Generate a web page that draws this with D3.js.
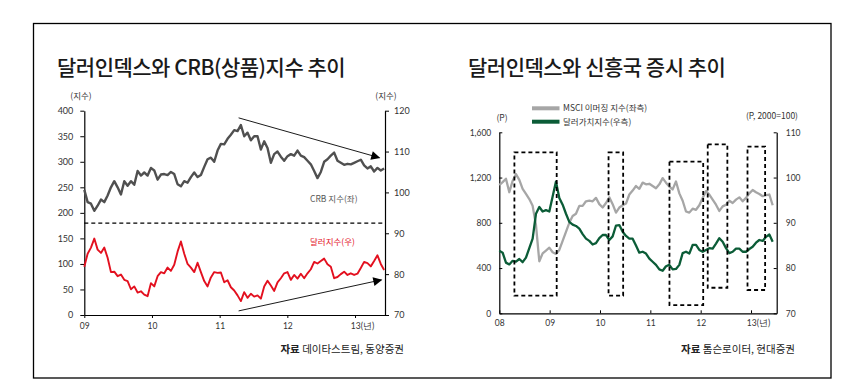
<!DOCTYPE html>
<html>
<head>
<meta charset="utf-8">
<script src="https://d3js.org/d3.v7.min.js"></script>
<style>
    body { margin: 0; background: #fff; }
    text { font-family: "Noto Sans CJK KR", "Noto Sans", sans-serif; }
</style>
</head>
<body>
<div class="chart"></div>
<script>

// Left panel: CRB commodity index (left axis) and dollar index (right axis)
var crbStart = 2009.0, crbEnd = 2013.43;
var crbValues = [245,221,218,204,214,226,221,234,250,262,
    250,236,262,253,262,255,282,273,279,273,
    288,283,265,275,276,274,280,276,256,252,
    262,259,270,279,270,274,290,305,308,300,
    322,335,334,345,353,362,360,372,350,357,
    342,350,350,324,340,327,298,315,320,310,
    302,311,315,312,322,312,309,302,295,282,
    268,280,300,305,312,318,302,298,294,296,
    295,298,301,304,293,287,291,281,288,283,287];
var dollarValues = [81.8,85.0,86.5,88.7,86.0,85.2,86.5,84.0,80.5,80.6,
    79.5,79.9,78.6,78.3,76.3,77.0,75.5,75.8,75.0,74.6,
    77.8,77.0,79.5,80.5,80.2,81.6,80.8,82.3,85.5,88.0,
    85.0,82.5,81.6,80.5,82.8,80.5,78.3,77.0,79.2,80.5,
    80.3,80.4,78.0,78.5,76.8,76.0,74.8,73.4,75.6,74.2,
    75.2,74.5,74.8,74.0,77.0,78.4,77.2,75.9,78.0,79.0,
    80.2,80.5,78.6,79.8,78.9,80.1,79.0,80.2,81.2,83.0,
    82.6,83.2,83.8,82.4,81.8,79.0,79.3,80.0,80.6,79.8,
    80.2,79.8,80.1,81.5,83.0,82.7,81.9,83.2,84.6,82.5,81.0];
var leftYears = [2009, 2010, 2011, 2012, 2013];
var crbTicks = [0, 50, 100, 150, 200, 250, 300, 350, 400];
var dollarTicks = [70, 80, 90, 100, 110, 120];
var splitValue = 180;
// trend arrows: [year, value] pairs (top on the CRB axis, bottom on the dollar axis)
var crbTrend = [[2011.28, 386], [2013.36, 308]];
var dollarTrend = [[2011.28, 71.0], [2013.39, 78.6]];

// Right panel: MSCI EM index (left axis) and dollar value index (right axis)
var emStart = 2008.0, emEnd = 2013.43;
var msciValues = [1134,1160,1190,1070,1170,1230,1180,1100,1055,1010,
    950,780,460,530,555,580,540,525,560,640,
    720,800,860,880,950,950,990,995,990,1020,
    965,935,975,1025,965,890,935,955,970,1050,
    1085,1125,1100,1155,1140,1145,1125,1105,1140,1195,
    1155,1120,1095,1165,1060,995,900,890,925,915,
    955,1020,1080,1050,1005,960,905,945,960,995,
    975,1005,1025,990,1020,1060,1090,1070,1055,1035,
    1045,1050,955];
var dxyValues = [83.8,83.4,81.2,80.8,81.6,81.4,82.0,81.3,82.3,84.4,
    86.5,92.0,93.5,92.5,92.8,92.5,95.8,99.1,95.5,94.0,
    92.0,90.2,89.6,89.3,88.7,87.5,86.5,86.0,85.2,85.5,
    86.6,87.3,87.3,86.2,87.0,89.4,89.5,88.0,87.1,86.5,
    86.5,85.0,83.4,83.6,83.2,82.1,81.4,80.7,79.7,79.4,
    80.4,80.7,79.7,79.8,80.7,83.3,83.6,83.2,85.1,85.1,
    84.0,83.6,84.0,84.4,84.3,85.4,86.6,85.8,84.4,83.3,
    83.6,84.3,84.3,83.6,83.6,84.2,84.7,85.6,86.2,86.0,
    86.9,87.4,85.8];
var rightYears = [2008, 2009, 2010, 2011, 2012, 2013];
var msciTicks = [0, 400, 800, 1200, 1600];
var dxyTicks = [70, 80, 90, 100, 110];
// highlighted periods: start year, end year, top and bottom on the MSCI axis
var boxStart = [2008.30, 2010.17, 2011.38, 2012.14, 2012.93];
var boxEnd = [2009.14, 2010.46, 2012.05, 2012.53, 2013.28];
var boxTop = [1423, 1423, 1340, 1494, 1473];
var boxBottom = [156, 156, 73, 226, 206];

var width = 857, height = 390;

var svg = d3.select(".chart")
    .append("svg")
        .attr("width", width)
        .attr("height", height);

svg.append("rect")
    .attr("width", width)
    .attr("height", height)
    .style("fill", "#fff");

// frame round both panels
svg.append("rect")
    .attr("x", 33.5)
    .attr("y", 23.5)
    .attr("width", 797.5)
    .attr("height", 354.5)
    .style("fill", "none")
    .style("stroke", "#000")
    .style("stroke-width", 1.3);

// turns a value array into [year, value] points spread evenly over a period
function toPoints(values, start, end) {
    var step = (end - start) / (values.length - 1);
    return values.map(function(v, i) { return [start + i * step, v]; });
}

function yearLabel(d) {
    var s = String(d).slice(2);
    return d == 2013 ? s + "(년)" : s;
}

function styleAxis(g, size) {
    g.select(".domain").style("stroke", "#000").style("stroke-width", 1.2);
    g.selectAll(".tick line").style("stroke", "#000").style("stroke-width", 1);
    g.selectAll(".tick text")
        .style("font-family", "Lato, 'Noto Sans', sans-serif")
        .style("font-size", size + "px")
        .style("fill", "#333");
}

// arrow head for the trend lines
svg.append("defs")
    .append("marker")
        .attr("id", "head")
        .attr("viewBox", "0 0 10 10")
        .attr("refX", 9)
        .attr("refY", 5)
        .attr("markerWidth", 12)
        .attr("markerHeight", 9)
        .attr("markerUnits", "userSpaceOnUse")
        .attr("orient", "auto")
    .append("path")
        .attr("d", "M0,0 L10,5 L0,10 z")
        .style("fill", "#000");

function makeLeft() {

    var x = d3.scaleLinear().domain([2009, 2013.443]).range([84.3, 385]);
    var yL = d3.scaleLinear().domain([0, 400]).range([315, 110.7]);
    var yR = d3.scaleLinear().domain([70, 120]).range([315, 110.7]);

    svg.append("text")
        .attr("x", 57)
        .attr("y", 75)
        .style("font-size", "21px")
        .style("font-weight", 500)
        .style("letter-spacing", "-0.5px")
        .style("fill", "#1a1a1a")
        .text("달러인덱스와 CRB(상품)지수 추이");

    // axes
    var gl = svg.append("g")
        .attr("transform", "translate(84.3,0)")
        .call(d3.axisLeft(yL).tickValues(crbTicks).tickSize(4).tickPadding(7).tickSizeOuter(0));
    styleAxis(gl, 9);

    var gr = svg.append("g")
        .attr("transform", "translate(385,0)")
        .call(d3.axisRight(yR).tickValues(dollarTicks).tickSize(4).tickPadding(5).tickSizeOuter(0));
    styleAxis(gr, 9);

    var gb = svg.append("g")
        .attr("transform", "translate(0,315)")
        .call(d3.axisBottom(x).tickValues(leftYears).tickFormat(yearLabel).tickSize(3).tickPadding(5).tickSizeOuter(0));
    styleAxis(gb, 8.5);
    gb.selectAll(".tick text").filter(function(d) { return d == 2013; }).attr("dx", 7);

    svg.append("text").attr("x", 81).attr("y", 99).attr("text-anchor", "middle")
        .style("font-size", "8.5px").style("fill", "#333").text("(지수)");
    svg.append("text").attr("x", 386).attr("y", 99).attr("text-anchor", "middle")
        .style("font-size", "8.5px").style("fill", "#333").text("(지수)");

    // dashed divider between the two series
    svg.append("line")
        .attr("x1", x(2009))
        .attr("x2", x(2013.443))
        .attr("y1", yL(splitValue))
        .attr("y2", yL(splitValue))
        .style("stroke", "#000")
        .style("stroke-width", 1.3)
        .style("stroke-dasharray", "4,3");

    var crbLine = d3.line()
        .x(function(d) { return x(d[0]); })
        .y(function(d) { return yL(d[1]); });

    var dollarLine = d3.line()
        .x(function(d) { return x(d[0]); })
        .y(function(d) { return yR(d[1]); });

    svg.append("path")
        .datum(toPoints(crbValues, crbStart, crbEnd))
        .attr("d", crbLine)
        .style("fill", "none")
        .style("stroke", "#505050")
        .style("stroke-width", 2.4)
        .style("stroke-linejoin", "round");

    svg.append("path")
        .datum(toPoints(dollarValues, crbStart, crbEnd))
        .attr("d", dollarLine)
        .style("fill", "none")
        .style("stroke", "#e3101f")
        .style("stroke-width", 1.9)
        .style("stroke-linejoin", "round");

    // trend arrows
    svg.append("path")
        .datum(crbTrend)
        .attr("d", crbLine)
        .style("stroke", "#000")
        .style("stroke-width", 0.9)
        .attr("marker-end", "url(#head)");

    svg.append("path")
        .datum(dollarTrend)
        .attr("d", dollarLine)
        .style("stroke", "#000")
        .style("stroke-width", 0.9)
        .attr("marker-end", "url(#head)");

    svg.append("text").attr("x", 310).attr("y", 202)
        .style("font-size", "8.5px").style("fill", "#555").text("CRB 지수(좌)");
    svg.append("text").attr("x", 310).attr("y", 245)
        .style("font-size", "8.5px").style("fill", "#e3101f").text("달러지수(우)");

    var src = svg.append("text")
        .attr("x", 404)
        .attr("y", 353)
        .attr("text-anchor", "end")
        .style("font-size", "10.5px")
        .style("fill", "#222");
    src.append("tspan").style("font-weight", 700).text("자료 ");
    src.append("tspan").text("데이타스트림, 동양증권");
}

function makeRight() {

    var x = d3.scaleLinear().domain([2008, 2013.51]).range([499.3, 776.7]);
    var yL = d3.scaleLinear().domain([0, 1600]).range([313.3, 132.3]);
    var yR = d3.scaleLinear().domain([70, 110]).range([313.3, 132.3]);

    svg.append("text")
        .attr("x", 468)
        .attr("y", 75)
        .style("font-size", "21px")
        .style("font-weight", 500)
        .style("letter-spacing", "-0.5px")
        .style("fill", "#1a1a1a")
        .text("달러인덱스와 신흥국 증시 추이");

    var gl = svg.append("g")
        .attr("transform", "translate(499.3,0)")
        .call(d3.axisLeft(yL).tickValues(msciTicks).tickFormat(d3.format(",")).tickSize(-3).tickPadding(8).tickSizeOuter(0));
    styleAxis(gl, 8.5);

    var gr = svg.append("g")
        .attr("transform", "translate(776.7,0)")
        .call(d3.axisRight(yR).tickValues(dxyTicks).tickSize(-3).tickPadding(9).tickSizeOuter(0));
    styleAxis(gr, 8.5);

    var gb = svg.append("g")
        .attr("transform", "translate(0,313.3)")
        .call(d3.axisBottom(x).tickValues(rightYears).tickFormat(yearLabel).tickSize(-3).tickPadding(7).tickSizeOuter(0));
    styleAxis(gb, 8.5);
    gb.selectAll(".tick text").filter(function(d) { return d == 2013; }).attr("dx", 7);

    svg.append("text").attr("x", 502).attr("y", 121).attr("text-anchor", "middle")
        .style("font-size", "8.5px").style("fill", "#333").text("(P)");
    svg.append("text").attr("x", 798).attr("y", 119).attr("text-anchor", "end")
        .style("font-size", "8.5px").style("fill", "#333").text("(P, 2000=100)");

    var msciLine = d3.line()
        .x(function(d) { return x(d[0]); })
        .y(function(d) { return yL(d[1]); });

    var dxyLine = d3.line()
        .x(function(d) { return x(d[0]); })
        .y(function(d) { return yR(d[1]); });

    svg.append("path")
        .datum(toPoints(msciValues, emStart, emEnd))
        .attr("d", msciLine)
        .style("fill", "none")
        .style("stroke", "#a6a6a6")
        .style("stroke-width", 2.3)
        .style("stroke-linejoin", "round");

    svg.append("path")
        .datum(toPoints(dxyValues, emStart, emEnd))
        .attr("d", dxyLine)
        .style("fill", "none")
        .style("stroke", "#0b5c37")
        .style("stroke-width", 2.3)
        .style("stroke-linejoin", "round");

    // dashed boxes over the highlighted periods
    svg.selectAll(".period")
        .data(boxStart)
        .enter()
        .append("rect")
        .attr("class", "period")
        .attr("x", function(d) { return x(d); })
        .attr("y", function(d, i) { return yL(boxTop[i]); })
        .attr("width", function(d, i) { return x(boxEnd[i]) - x(d); })
        .attr("height", function(d, i) { return yL(boxBottom[i]) - yL(boxTop[i]); })
        .style("fill", "none")
        .style("stroke", "#000")
        .style("stroke-width", 1.8)
        .style("stroke-dasharray", "4,3");

    // legend
    var legend = [["MSCI 이머징 지수(좌측)", "#a6a6a6"], ["달러가치지수(우측)", "#0b5c37"]];
    legend.forEach(function(d, i) {
        svg.append("rect")
            .attr("x", 532)
            .attr("y", 106.3 + i * 13.4)
            .attr("width", 27.5)
            .attr("height", 4)
            .style("fill", d[1]);
        svg.append("text")
            .attr("x", 563)
            .attr("y", 111.3 + i * 13.4)
            .style("font-size", "8.5px")
            .style("fill", "#333")
            .text(d[0]);
    });

    var src = svg.append("text")
        .attr("x", 795)
        .attr("y", 353)
        .attr("text-anchor", "end")
        .style("font-size", "10.5px")
        .style("fill", "#222");
    src.append("tspan").style("font-weight", 700).text("자료 ");
    src.append("tspan").text("톰슨로이터, 현대증권");
}

makeLeft();
makeRight();

</script>
</body>
</html>
